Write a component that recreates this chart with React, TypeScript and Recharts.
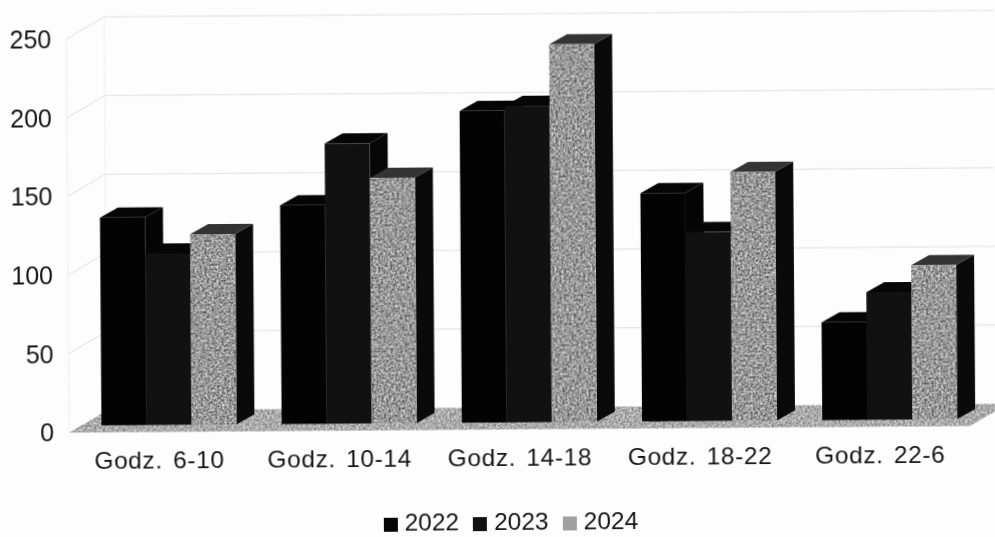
import React from 'react';
import { BarChart, Bar, XAxis, YAxis, Legend, usePlotArea } from 'recharts';

const categories = ['Godz. 6-10', 'Godz. 10-14', 'Godz. 14-18', 'Godz. 18-22', 'Godz. 22-6'];
const values2022 = [132, 139, 198, 145, 62];
const values2023 = [109, 178, 201, 120, 81];
const values2024 = [121, 156, 240, 158, 98];
const yTicks = [0, 50, 100, 150, 200, 250];
const yMax = 250;

const data = categories.map((name, i) => ({
  name,
  y2022: values2022[i],
  y2023: values2023[i],
  y2024: values2024[i],
}));

const FONT = '"Liberation Sans", Arial, sans-serif';
const SHIFT_X = 10;
const SHIFT_Y = -7;
const DEPTH_X = 18;
const DEPTH_Y = -10;
const WALL_X = 38;
const WALL_Y = -22;

const Room = () => {
  const area = usePlotArea();
  if (!area) return null;
  const { x, y, width, height } = area;
  const bottom = y + height;
  const lineColor = '#e0e0e0';
  return (
    <g>
      <defs>
        <filter id="grain" x="0" y="0" width="100%" height="100%" colorInterpolationFilters="sRGB">
          <feTurbulence type="fractalNoise" baseFrequency="0.42" numOctaves={2} seed={4} result="n" />
          <feColorMatrix
            in="n"
            type="matrix"
            values="0.85 0 0 0 0.17  0.85 0 0 0 0.17  0.85 0 0 0 0.17  0 0 0 0 1"
            result="g"
          />
          <feComposite in="g" in2="SourceAlpha" operator="in" />
        </filter>
        <filter id="floorGrain" x="0" y="0" width="100%" height="100%" colorInterpolationFilters="sRGB">
          <feTurbulence type="fractalNoise" baseFrequency="0.45" numOctaves={2} seed={9} result="n" />
          <feColorMatrix
            in="n"
            type="matrix"
            values="0.6 0 0 0 0.37  0.6 0 0 0 0.37  0.6 0 0 0 0.37  0 0 0 0 1"
            result="g"
          />
          <feComposite in="g" in2="SourceAlpha" operator="in" />
        </filter>
      </defs>
      <polygon
        points={`${x},${bottom} ${x + WALL_X},${bottom + WALL_Y} ${x + width + WALL_X},${bottom + WALL_Y} ${x + width},${bottom}`}
        fill="#aaaaaa"
        filter="url(#floorGrain)"
      />
      {yTicks.map((t) => {
        const ty = bottom - (t / yMax) * height;
        return (
          <g key={t} stroke={lineColor} strokeWidth={1} fill="none">
            {t > 0 && <line x1={x} y1={ty} x2={x + WALL_X} y2={ty + WALL_Y} />}
            {t > 0 && <line x1={x + WALL_X} y1={ty + WALL_Y} x2={x + width + WALL_X} y2={ty + WALL_Y} />}
          </g>
        );
      })}
      <line x1={x + WALL_X} y1={y + WALL_Y} x2={x + WALL_X} y2={bottom + WALL_Y} stroke="#efefef" />
      <line x1={x} y1={y} x2={x} y2={bottom} stroke="#efefef" />
    </g>
  );
};

const makeBox = (front: string, top: string, side: string, grain: boolean) => (props: any) => {
  const { x, y, width, height } = props;
  const fx = x + SHIFT_X;
  const fy = y + SHIFT_Y;
  const r = fx + width;
  const b = fy + height;
  return (
    <g>
      <polygon points={`${r},${fy} ${r + DEPTH_X},${fy + DEPTH_Y} ${r + DEPTH_X},${b + DEPTH_Y} ${r},${b}`} fill={side} />
      <polygon points={`${fx},${fy} ${fx + DEPTH_X},${fy + DEPTH_Y} ${r + DEPTH_X},${fy + DEPTH_Y} ${r},${fy}`} fill={top} />
      <rect x={fx} y={fy} width={width} height={height} fill={front} filter={grain ? 'url(#grain)' : undefined} />
    </g>
  );
};

const Box2022 = makeBox('#030303', '#050505', '#040404', false);
const Box2023 = makeBox('#111111', '#060606', '#070707', false);
const Box2024 = makeBox('#9a9a9a', '#333333', '#0a0a0a', true);

export default function App() {
  return (
    <div
      style={{
        position: 'absolute',
        left: 0,
        top: 0,
        width: 995,
        height: 537,
        background: '#fdfdfd',
        overflow: 'hidden',
      }}
    >
      <div style={{ transform: 'rotate(-0.42deg)', transformOrigin: '497px 268px', filter: 'blur(0.5px)', width: 995, height: 537 }}>
        <BarChart
          width={995}
          height={537}
          data={data}
          margin={{ left: 8, top: 36, right: 26, bottom: 28 }}
          barCategoryGap="12.4%"
          barGap={0}
        >
          <Room />
          <XAxis
            dataKey="name"
            axisLine={false}
            tickLine={false}
            height={52}
            interval={0}
            tickMargin={13}
            tick={{ fill: '#161616', fontSize: 24.5, fontFamily: FONT, wordSpacing: 3, letterSpacing: 0.6 }}
          />
          <YAxis
            domain={[0, yMax]}
            ticks={yTicks}
            width={60}
            axisLine={false}
            tickLine={false}
            tickMargin={9}
            tick={{ fill: '#161616', fontSize: 25, fontFamily: FONT }}
          />
          <Bar dataKey="y2022" name="2022" fill="#050505" shape={Box2022} isAnimationActive={false} />
          <Bar dataKey="y2023" name="2023" fill="#111111" shape={Box2023} isAnimationActive={false} />
          <Bar dataKey="y2024" name="2024" fill="#a0a0a0" shape={Box2024} isAnimationActive={false} />
          <Legend
            height={20}
            iconType="square"
            iconSize={14}
            wrapperStyle={{ left: 0, bottom: 5, width: 1032, fontFamily: FONT, fontSize: 24.5, lineHeight: '20px' }}
            formatter={(value: string) => <span style={{ color: '#161616', marginLeft: 3, marginRight: 4 }}>{value}</span>}
          />
        </BarChart>
      </div>
    </div>
  );
}
